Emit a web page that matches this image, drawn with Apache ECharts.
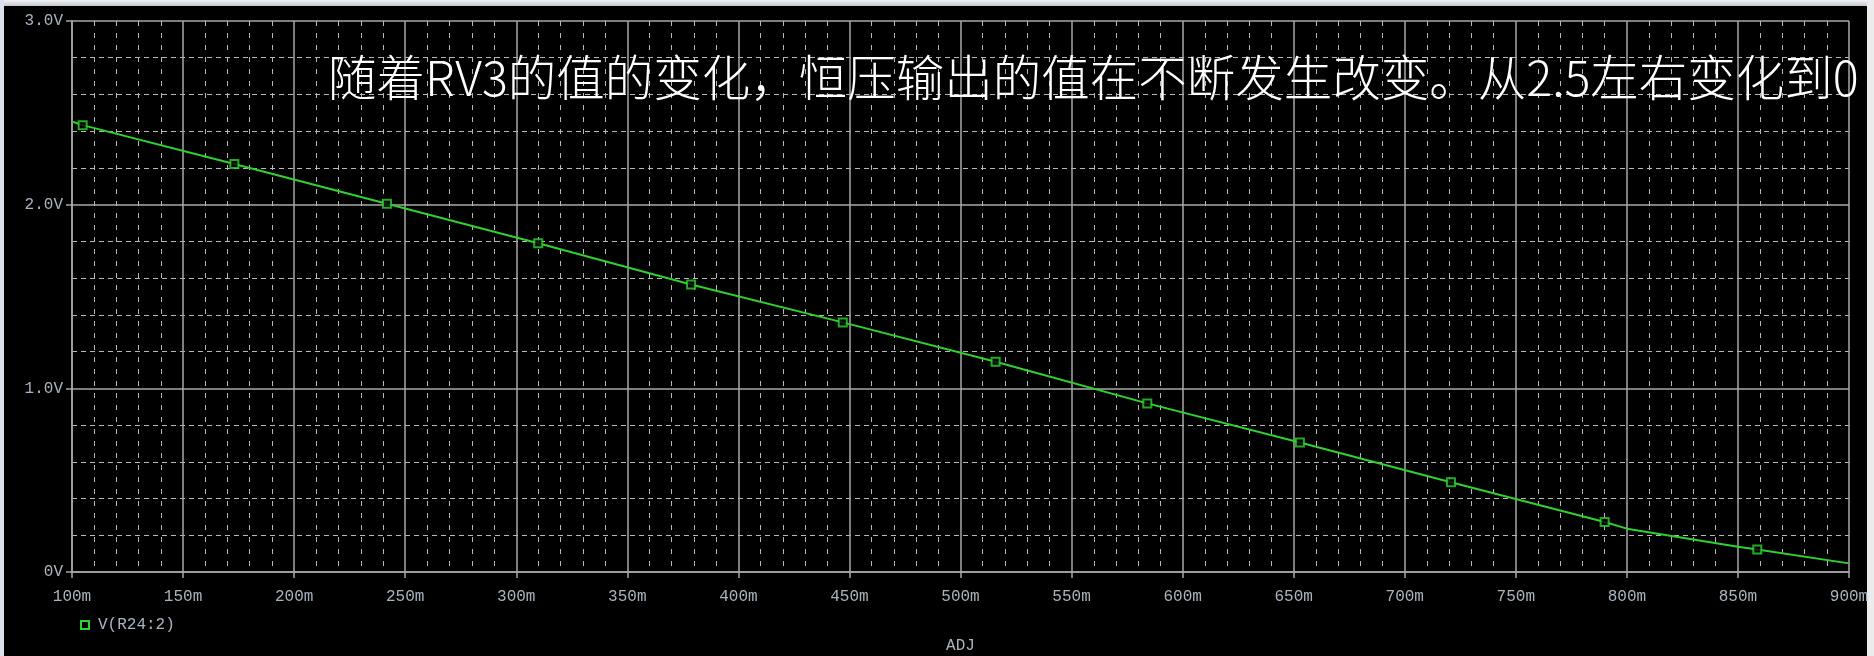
<!DOCTYPE html>
<html>
<head>
<meta charset="utf-8">
<title>V(R24:2) vs ADJ</title>
<script src="https://cdn.jsdelivr.net/npm/echarts@6/dist/echarts.min.js"></script>
<style>
  html, body { margin: 0; padding: 0; background: #000; }
  #chart { width: 1874px; height: 656px; }
</style>
</head>
<body>
<div id="chart"></div>
<script>
// Swept parameter ADJ (m = milli) and the output voltage V(R24:2)
const traceAdj = [100, 104.8, 173.1, 241.8, 309.9, 378.7, 447.0, 515.8, 584.1, 652.8, 720.8, 790.0, 800, 850, 858.7, 900];
const traceV   = [2.453, 2.433, 2.221, 2.005, 1.790, 1.565, 1.359, 1.145, 0.918, 0.705, 0.489, 0.272, 0.236, 0.138, 0.123, 0.047];

// Trace marker positions (hollow squares on the curve)
const markerAdj = [104.8, 173.1, 241.8, 309.9, 378.7, 447.0, 515.8, 584.1, 652.8, 720.8, 790.0, 858.7];
const markerV   = [2.433, 2.221, 2.005, 1.790, 1.565, 1.359, 1.145, 0.918, 0.705, 0.489, 0.272, 0.123];

// Axis ranges and labels
const xMin = 100, xMax = 900, xStep = 50;
const yMin = 0, yMax = 3, yStep = 1;
const xUnit = 'm';
const yUnit = 'V';
const traceName = 'V(R24:2)';
const xName = 'ADJ';
const note = '随着RV3的值的变化，恒压输出的值在不断发生改变。从2.5左右变化到0';

const traceData = traceAdj.map((x, i) => [x, traceV[i]]);
const markerData = markerAdj.map((x, i) => [x, markerV[i]]);

const green = '#2fd12f';
const gridColor = '#a8a8a8';
const minorColor = '#b8b8b8';
const labelColor = '#aab3be';
const monoFont = '"Liberation Mono", "DejaVu Sans Mono", monospace';

const chart = echarts.init(document.getElementById('chart'), null, { renderer: 'canvas' });

chart.setOption({
  backgroundColor: '#000',
  animation: false,
  grid: { left: 72, right: 25, top: 21, bottom: 84, containLabel: false, outerBoundsMode: 'none' },
  legend: {
    left: 75, top: 612,
    icon: 'rect',
    itemWidth: 8, itemHeight: 8,
    data: [traceName],
    itemStyle: { color: '#000', borderColor: green, borderWidth: 2 },
    textStyle: { color: labelColor, fontFamily: monoFont, fontSize: 16, padding: [0, 0, 0, 4] }
  },
  xAxis: {
    type: 'value',
    min: xMin, max: xMax, interval: xStep,
    name: xName,
    nameLocation: 'middle',
    nameGap: 66,
    nameTextStyle: { color: labelColor, fontFamily: monoFont, fontSize: 16 },
    axisLine: { show: true, lineStyle: { color: gridColor, width: 1.5 } },
    axisTick: { show: true, inside: false, length: 6, lineStyle: { color: gridColor, width: 1.5 } },
    axisLabel: { color: labelColor, fontFamily: monoFont, fontSize: 16, margin: 17,
                 formatter: v => v + xUnit },
    splitLine: { show: true, lineStyle: { color: gridColor, width: 1.5 } },
    minorTick: { show: false, splitNumber: 5 },
    minorSplitLine: { show: true, lineStyle: { color: minorColor, width: 1, type: [5, 7] } }
  },
  yAxis: {
    type: 'value',
    min: yMin, max: yMax, interval: yStep,
    axisLine: { show: true, lineStyle: { color: gridColor, width: 1.5 } },
    axisTick: { show: true, inside: false, length: 6, lineStyle: { color: gridColor, width: 1.5 } },
    axisLabel: { color: labelColor, fontFamily: monoFont, fontSize: 16, margin: 9,
                 formatter: v => (v === 0 ? '0' : v.toFixed(1)) + yUnit },
    splitLine: { show: true, lineStyle: { color: gridColor, width: 1.5 } },
    minorTick: { show: false, splitNumber: 5 },
    minorSplitLine: { show: true, lineStyle: { color: minorColor, width: 1, type: [5, 4] } }
  },
  series: [
    {
      name: traceName,
      type: 'line',
      data: traceData,
      showSymbol: false,
      symbol: 'none',
      lineStyle: { color: green, width: 2 },
      itemStyle: { color: green },
      z: 3
    },
    {
      name: traceName,
      type: 'scatter',
      data: markerData,
      symbol: 'rect',
      symbolSize: 8,
      itemStyle: { color: '#000', borderColor: green, borderWidth: 2 },
      z: 4
    }
  ],
  graphic: [
    // window chrome strips around the plot window
    { type: 'rect', left: 0, top: 0, shape: { width: 1874, height: 6 },
      style: { fill: new echarts.graphic.LinearGradient(0, 0, 0, 1, [
        { offset: 0, color: '#f2f4f6' }, { offset: 1, color: '#c4c8cc' }]) }, silent: true },
    { type: 'rect', left: 0, top: 0, shape: { width: 4, height: 656 },
      style: { fill: '#dde2ea' }, silent: true },
    { type: 'rect', left: 1867, top: 0, shape: { width: 7, height: 656 },
      style: { fill: '#ececec' }, silent: true },
    // annotation text
    { type: 'text', left: 328, top: 53, z: 10,
      style: { text: note, fill: '#ffffff',
               font: '300 48.5px "Noto Sans CJK SC", "Noto Sans", sans-serif' } }
  ]
});
</script>
</body>
</html>
